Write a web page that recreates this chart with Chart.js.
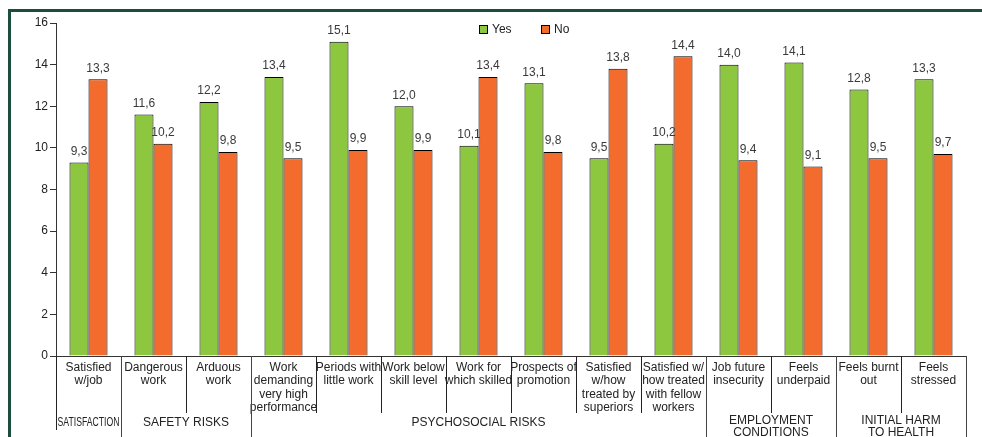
<!DOCTYPE html>
<html><head><meta charset="utf-8">
<script src="https://cdn.jsdelivr.net/npm/chart.js@4.4.1/dist/chart.umd.min.js"></script>
<style>html,body{margin:0;padding:0;background:#fff}#wrap{width:982px;height:437px;position:relative}</style>
</head><body><div id="wrap"><canvas id="c" width="982" height="437"></canvas></div>
<script>
const categories = [["Satisfied","w/job"],["Dangerous","work"],["Arduous","work"],["Work","demanding","very high","performance"],["Periods with","little work"],["Work below","skill level"],["Work for","which skilled"],["Prospects of","promotion"],["Satisfied","w/how","treated by","superiors"],["Satisfied w/","how treated","with fellow","workers"],["Job future","insecurity"],["Feels","underpaid"],["Feels burnt","out"],["Feels","stressed"]];
const yesValues = [9.3,11.6,12.2,13.4,15.1,12.0,10.1,13.1,9.5,10.2,14.0,14.1,12.8,13.3];
const noValues = [13.3,10.2,9.8,9.5,9.9,9.9,13.4,9.8,13.8,14.4,9.4,9.1,9.5,9.7];
const seriesNames = ["Yes","No"];
const groupLabels = [["SATISFACTION"],["SAFETY RISKS"],["PSYCHOSOCIAL RISKS"],["EMPLOYMENT","CONDITIONS"],["INITIAL HARM","TO HEALTH"]];
const groupStarts = [0,1,3,10,12];
const groupEnds = [1,3,10,12,14];
const yMin = 0, yMax = 16, yStep = 2;

const GREEN = '#8dc63f', ORANGE = '#f36c2e';
const FONT = '"Liberation Sans", Arial, sans-serif';

const framePlugin = {
  id: 'frame',
  beforeDraw(chart) {
    const ctx = chart.ctx;
    ctx.save();
    ctx.fillStyle = '#fff';
    ctx.fillRect(0, 0, chart.width, chart.height);
    ctx.fillStyle = '#1d4d3b';
    ctx.fillRect(8, 9, chart.width - 8, 3);
    ctx.fillRect(8, 9, 3, chart.height - 9);
    ctx.restore();
  }
};

const extrasPlugin = {
  id: 'extras',
  afterDraw(chart) {
    const ctx = chart.ctx;
    const xs = chart.scales.x;
    const ca = chart.chartArea;
    const n = categories.length;
    const catW = (xs.right - xs.left) / n;
    const bnd = i => (i < n ? xs.getPixelForValue(i) - catW / 2 : xs.right);
    ctx.save();
    // dividers
    const groupB = new Set([0].concat(groupEnds));
    for (let i = 0; i <= n; i++) {
      const x = Math.round(bnd(i)) + 0.5;
      let yEnd = groupB.has(i) ? 437 : 413;
      if (i === 0) yEnd = 430;
      ctx.strokeStyle = groupB.has(i) && i !== 0 ? '#444' : '#222';
      ctx.lineWidth = 1;
      ctx.beginPath();
      ctx.moveTo(x, ca.bottom);
      ctx.lineTo(x, yEnd);
      ctx.stroke();
    }
    // group labels
    ctx.fillStyle = '#222';
    ctx.textAlign = 'center';
    ctx.textBaseline = 'middle';
    ctx.font = '12px ' + FONT;
    groupLabels.forEach((lines, g) => {
      const x0 = bnd(groupStarts[g]), x1 = bnd(groupEnds[g]);
      const cx = (x0 + x1) / 2;
      const w = x1 - x0 - 3;
      const y0 = lines.length === 1 ? 423 : 421;
      lines.forEach((t, k) => ctx.fillText(t, cx, y0 + k * 11.5, w));
    });
    // value labels
    ctx.fillStyle = '#3a3a3a';
    ctx.font = '12px ' + FONT;
    chart.data.datasets.forEach((ds, di) => {
      const meta = chart.getDatasetMeta(di);
      meta.data.forEach((el, i) => {
        const v = ds.data[i];
        ctx.fillText(v.toFixed(1).replace('.', ','), el.x, el.y - 11);
      });
    });
    // legend
    const items = [{x: 479, label: seriesNames[0], color: GREEN}, {x: 541, label: seriesNames[1], color: ORANGE}];
    items.forEach(it => {
      ctx.fillStyle = it.color;
      ctx.fillRect(it.x + 0.5, 25.5, 8, 8);
      ctx.strokeStyle = '#000';
      ctx.lineWidth = 1;
      ctx.strokeRect(it.x + 0.5, 25.5, 8, 8);
      ctx.fillStyle = '#222';
      ctx.textAlign = 'left';
      ctx.fillText(it.label, it.x + 13, 30);
    });
    ctx.restore();
  }
};

new Chart(document.getElementById('c'), {
  type: 'bar',
  data: {
    labels: categories,
    datasets: [
      {label: seriesNames[0], data: yesValues, backgroundColor: GREEN, borderColor: '#000', borderWidth: 1, categoryPercentage: 0.585, barPercentage: 1.0},
      {label: seriesNames[1], data: noValues, backgroundColor: ORANGE, borderColor: '#000', borderWidth: 1, categoryPercentage: 0.585, barPercentage: 1.0}
    ]
  },
  options: {
    responsive: false,
    animation: false,
    devicePixelRatio: 1,
    layout: {padding: {top: 23, right: 16, left: 0, bottom: 0}},
    plugins: {legend: {display: false}, tooltip: {enabled: false}},
    scales: {
      x: {
        grid: {display: false},
        border: {display: true, color: '#333', width: 1},
        ticks: {color: '#222', font: {size: 12, family: FONT, lineHeight: 1.11}, padding: -3, maxRotation: 0, autoSkip: false},
        afterFit(s) { s.height = 81; }
      },
      y: {
        min: yMin, max: yMax,
        grid: {drawOnChartArea: false, color: '#333', tickLength: 6},
        border: {display: true, color: '#333', width: 1},
        ticks: {stepSize: yStep, color: '#222', font: {size: 12, family: FONT}, padding: 2},
        afterFit(s) { s.width = 56; }
      }
    }
  },
  plugins: [framePlugin, extrasPlugin]
});
</script></body></html>
